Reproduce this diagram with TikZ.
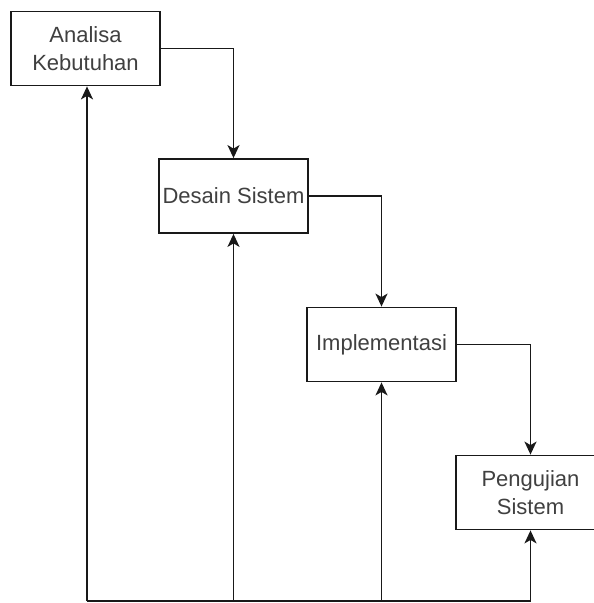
\documentclass[tikz,border=0pt]{standalone}
\usepackage{fontspec}
\setmainfont{Liberation Sans}
\usetikzlibrary{arrows.meta}
\begin{document}
\begin{tikzpicture}[x=1pt,y=-1pt,
  stage/.style={draw=black!90,line width=1.8pt,fill=white,minimum width=149pt,minimum height=74pt,
    inner sep=0pt,align=center,text=black!75,font=\fontsize{22}{28}\selectfont},
  flow/.style={line width=1.8pt,draw=black!90,-{Stealth[length=13pt,width=12pt,inset=3.5pt]}},
  wire/.style={line width=1.8pt,draw=black!90}]
\useasboundingbox (0,0) rectangle (594,603);
\clip (0,0) rectangle (594,603);
\fill[white] (0,0) rectangle (594,603);

\node[stage] (b1) at (85.5,48.5) {Analisa\\Kebutuhan};
\node[stage] (b2) at (233.5,196) {Desain Sistem};
\node[stage] (b3) at (381.5,344.5) {Implementasi};
\node[stage] (b4) at (530.5,492.5) {Pengujian\\Sistem};

% forward steps
\draw[flow] (b1.east) -| (b2.north);
\draw[flow] (b2.east) -| (b3.north);
\draw[flow] (b3.east) -| (b4.north);

% feedback lines along the bottom
\coordinate (c1) at (87,601);
\coordinate (c2) at (233.5,601);
\coordinate (c3) at (381.5,601);
\coordinate (c4) at (530.5,601);
\draw[wire] (c1) -- (c4);
\draw[flow] (c1) -- (c1 |- b1.south);
\draw[flow] (c2) -- (b2.south);
\draw[flow] (c3) -- (b3.south);
\draw[flow] (c4) -- (b4.south);
\end{tikzpicture}
\end{document}
